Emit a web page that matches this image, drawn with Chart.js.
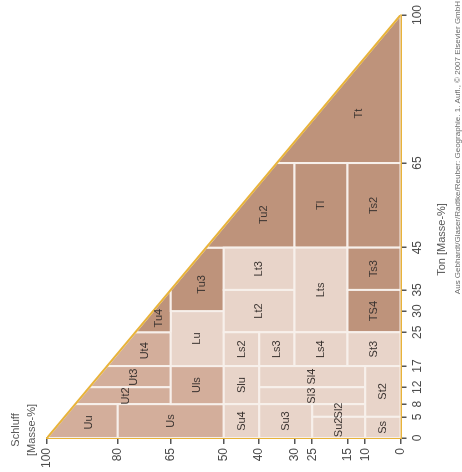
<!DOCTYPE html>
<html>
<head>
<meta charset="utf-8">
<script src="https://cdn.jsdelivr.net/npm/chart.js@4.4.1/dist/chart.umd.min.js"></script>
<style>
  html, body { margin: 0; padding: 0; background: #fff; }
  #wrap { position: relative; width: 462px; height: 472px; overflow: hidden; }
  /* the diagram is drawn upright and then turned a quarter to the left */
  #turn { position: absolute; left: 0; top: 0; width: 472px; height: 462px;
          transform-origin: 0 0; transform: translateY(472px) rotate(-90deg); }
</style>
</head>
<body>
<div id="wrap"><div id="turn"><canvas id="soilChart" width="472" height="462"></canvas></div></div>
<script>
// KA5 Bodenarten: Ton (x) gegen Schluff (y), Sand ist der Rest bis 100
const tonTicks = [0, 5, 8, 12, 17, 25, 30, 35, 45, 65, 100]
const schluffTicks = [0, 10, 15, 25, 30, 40, 50, 65, 80, 100]

const bodenarten = ['Ss', 'St2', 'Su2', 'Sl2', 'Su3', 'Su4', 'Sl3', 'Sl4', 'Slu', 'St3', 'Ls4', 'Ls3', 'Ls2',
  'TS4', 'Ts3', 'Ts2', 'Lts', 'Lt2', 'Lt3', 'Tl', 'Tu2', 'Tt', 'Tu3', 'Tu4', 'Lu', 'Uls', 'Us', 'Uu', 'Ut2', 'Ut3', 'Ut4']
const tonVon =     [0, 5, 0, 5, 0, 0, 8, 12, 8, 17, 17, 17, 17, 25, 35, 45, 25, 25, 35, 45, 45, 65, 30, 25, 17, 8, 0, 0, 8, 12, 17]
const tonBis =     [5, 17, 5, 8, 8, 8, 12, 17, 17, 25, 25, 25, 25, 35, 45, 65, 45, 35, 45, 65, 65, 100, 45, 35, 30, 17, 8, 8, 12, 17, 25]
const schluffVon = [0, 0, 10, 10, 25, 40, 10, 10, 40, 0, 15, 30, 40, 0, 0, 0, 15, 30, 30, 15, 30, 0, 50, 65, 50, 50, 50, 80, 65, 65, 65]
const schluffBis = [10, 10, 25, 25, 40, 50, 40, 40, 50, 15, 30, 40, 50, 15, 15, 15, 30, 50, 50, 30, 100, 100, 65, 100, 65, 65, 80, 100, 100, 100, 100]
// Hauptgruppe: T = Tone, U = Schluffe, L = Lehme und Sande
const gruppe = ['L', 'L', 'L', 'L', 'L', 'L', 'L', 'L', 'L', 'L', 'L', 'L', 'L',
  'T', 'T', 'T', 'L', 'L', 'L', 'T', 'T', 'T', 'T', 'T', 'L', 'U', 'U', 'U', 'U', 'U', 'U']

const farben = { T: '#be937b', U: '#d3ae9b', L: '#e8d4c9' }
const orange = '#e8b33a'
const fontFam = "'Liberation Sans', Arial, sans-serif"

// cut a rectangle at the line Ton + Schluff = 100
function clipToTriangle(pts) {
  const out = []
  for (let i = 0; i < pts.length; i++) {
    const a = pts[i], b = pts[(i + 1) % pts.length]
    const ina = a.x + a.y <= 100, inb = b.x + b.y <= 100
    if (ina) out.push(a)
    if (ina !== inb) {
      const t = (100 - a.x - a.y) / ((b.x + b.y) - (a.x + a.y))
      out.push({ x: a.x + t * (b.x - a.x), y: a.y + t * (b.y - a.y) })
    }
  }
  return out
}

function centroid(pts) {
  let a = 0, cx = 0, cy = 0
  pts.forEach((p, i) => {
    const q = pts[(i + 1) % pts.length]
    const f = p.x * q.y - q.x * p.y
    a += f
    cx += (p.x + q.x) * f
    cy += (p.y + q.y) * f
  })
  return { x: cx / (3 * a), y: cy / (3 * a) }
}

const polygons = bodenarten.map((n, i) => clipToTriangle([
  { x: tonVon[i], y: schluffVon[i] },
  { x: tonBis[i], y: schluffVon[i] },
  { x: tonBis[i], y: schluffBis[i] },
  { x: tonVon[i], y: schluffBis[i] }
]))

const datasets = polygons.map((poly, i) => ({
  label: bodenarten[i],
  data: [...poly, poly[0]],
  showLine: true,
  fill: 'shape',
  backgroundColor: farben[gruppe[i]],
  borderColor: '#f7f0eb',
  borderWidth: 2,
  pointRadius: 0
}))

datasets.push({
  label: 'Rand',
  data: [{ x: 0, y: 100 }, { x: 100, y: 0 }],
  showLine: true,
  fill: false,
  borderColor: orange,
  borderWidth: 2,
  pointRadius: 0,
  order: -1
})

const labelPlugin = {
  id: 'bodenartLabels',
  afterDatasetsDraw(chart) {
    const { ctx, scales: { x, y } } = chart
    ctx.save()
    ctx.font = '11px ' + fontFam
    ctx.fillStyle = '#3b3431'
    ctx.textAlign = 'center'
    ctx.textBaseline = 'middle'
    polygons.forEach((poly, i) => {
      const c = centroid(poly)
      ctx.fillText(bodenarten[i], x.getPixelForValue(c.x), y.getPixelForValue(c.y))
    })
    ctx.restore()
  }
}

// axis names and source line
const textPlugin = {
  id: 'axisTexts',
  afterDraw(chart) {
    const { ctx, chartArea, width, height } = chart
    ctx.save()
    ctx.font = '11px ' + fontFam
    ctx.fillStyle = '#555'
    ctx.textAlign = 'center'
    ctx.textBaseline = 'middle'
    ctx.fillText('Schluff', chartArea.left + 8, chartArea.top - 31)
    ctx.fillText('[Masse-%]', chartArea.left + 8, chartArea.top - 15)
    ctx.fillText('Ton [Masse-%]', (chartArea.left + chartArea.right) / 2 - 13, chartArea.bottom + 41)
    ctx.font = '8px ' + fontFam
    ctx.fillStyle = '#6a6a6a'
    ctx.textAlign = 'right'
    ctx.fillText('Aus Gebhardt/Glaser/Radtke/Reuber: Geographie. 1. Aufl., \u00a9 2007 Elsevier GmbH', width - 1, height - 4)
    ctx.restore()
  }
}

new Chart(document.getElementById('soilChart'), {
  type: 'scatter',
  data: { datasets: datasets },
  options: {
    responsive: false,
    animation: false,
    layout: { padding: { left: 0, right: 15, top: 47, bottom: 33 } },
    plugins: {
      legend: { display: false },
      tooltip: { enabled: false }
    },
    scales: {
      x: {
        type: 'linear',
        min: 0,
        max: 100,
        z: 1,
        afterBuildTicks: s => { s.ticks = tonTicks.map(v => ({ value: v })) },
        ticks: { autoSkip: false, maxRotation: 0, padding: 4, color: '#4a4a4a', font: { family: fontFam, size: 12 } },
        grid: { drawOnChartArea: false, drawTicks: true, tickLength: 6, color: '#555', lineWidth: 1.5 },
        border: { color: orange, width: 2 }
      },
      y: {
        type: 'linear',
        min: 0,
        max: 100,
        z: 1,
        afterBuildTicks: s => { s.ticks = schluffTicks.map(v => ({ value: v })) },
        ticks: { autoSkip: false, padding: 4, color: '#4a4a4a', font: { family: fontFam, size: 12 } },
        grid: { drawOnChartArea: false, drawTicks: true, tickLength: 6, color: '#555', lineWidth: 1.5 },
        border: { color: orange, width: 2 }
      }
    }
  },
  plugins: [labelPlugin, textPlugin]
})
</script>
</body>
</html>
